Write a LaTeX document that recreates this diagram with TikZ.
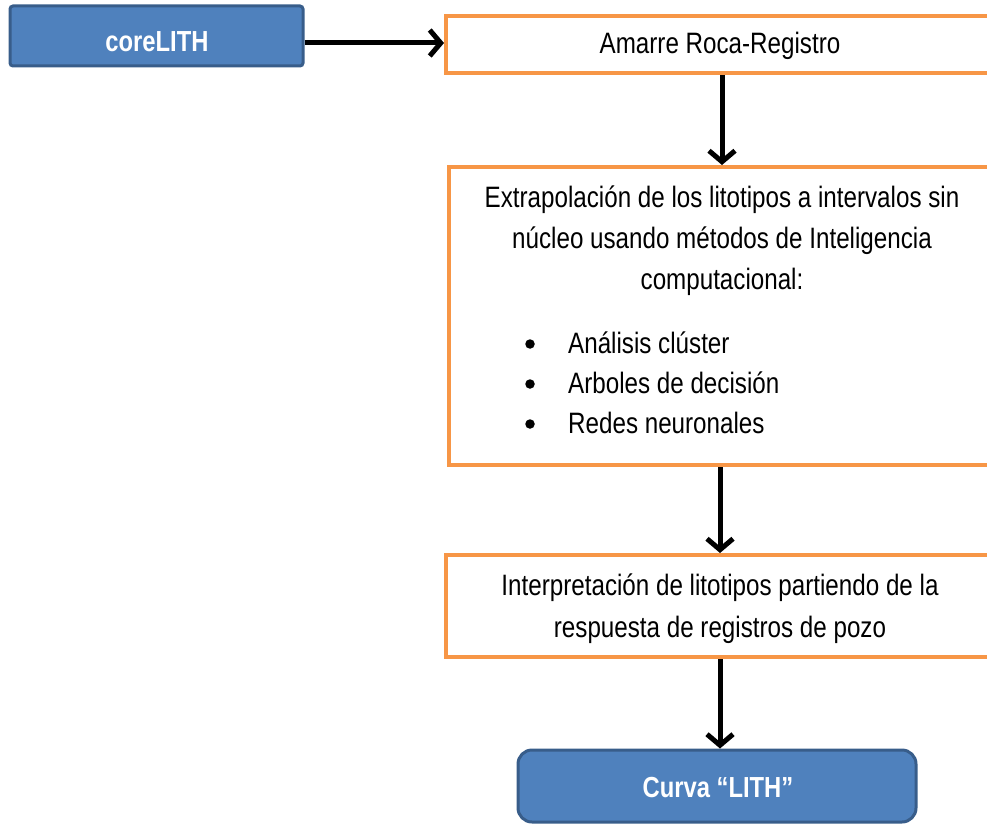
\documentclass[tikz,border=0pt]{standalone}
\usepackage{fontspec}
\setmainfont{Liberation Sans}[FakeStretch=0.82]
\usetikzlibrary{arrows.meta}
\definecolor{obord}{HTML}{F79646}
\definecolor{bfill}{HTML}{4F81BD}
\definecolor{bbord}{HTML}{385D8A}
\tikzset{
  obox/.style={draw=obord, line width=4pt, fill=white, rectangle, inner sep=0pt},
  bbox/.style={draw=bbord, line width=3pt, fill=bfill, rectangle, inner sep=0pt},
  txt/.style={font=\fontsize{29.5}{41}\selectfont, inner sep=0pt, anchor=base},
  btxt/.style={font=\fontsize{29}{34}\selectfont\bfseries, text=white, inner sep=0pt, anchor=base},
  bul/.style={circle, fill=black, inner sep=0pt, minimum size=9.5pt},
  arr/.style={line width=5pt, -{Straight Barb[length=11pt,width=26pt]}},
}
\begin{document}
\begin{tikzpicture}[x=1pt,y=-1pt]
\useasboundingbox (0,0) rectangle (987,824);
\clip (0,0) rectangle (987,824);
% boxes
\node[bbox, rounded corners=3pt, minimum width=293pt, minimum height=60pt] (core) at (156.5,36) {};
\node[btxt] (coret) at (157,52) {coreLITH};
\node[obox, minimum width=546pt, minimum height=57pt] (amarre) at (719,44.5) {};
\node[txt] (amarret) at (720,54) {Amarre Roca-Registro};
\node[obox, minimum width=546pt, minimum height=298pt] (ext) at (722,316) {};
\node[txt] (e1) at (722,207) {Extrapolación de los litotipos a intervalos sin};
\node[txt] (e2) at (722,248) {núcleo usando métodos de Inteligencia};
\node[txt] (e3) at (722,289) {computacional:};
\node[bul] (b1) at (530,344) {};
\node[bul] (b2) at (530,384) {};
\node[bul] (b3) at (530,424) {};
\node[txt, anchor=base west] (i1) at (568,353) {Análisis clúster};
\node[txt, anchor=base west] (i2) at (568,393) {Arboles de decisión};
\node[txt, anchor=base west] (i3) at (568,433) {Redes neuronales};
\node[obox, minimum width=546pt, minimum height=102pt] (interp) at (719,606) {};
\node[txt] (p1) at (720,595) {Interpretación de litotipos partiendo de la};
\node[txt] (p2) at (720,637) {respuesta de registros de pozo};
\node[bbox, rounded corners=14pt, minimum width=398pt, minimum height=72pt] (curva) at (717,786) {};
\node[btxt] (curvat) at (718,797) {Curva “LITH”};
% connectors
\draw[arr] ([yshift=-7pt]core.east) -- ([yshift=-7pt]core.east -| amarre.west);
\draw[arr] ([xshift=3pt]amarre.south) -- ([xshift=3pt]amarre.south |- ext.north);
\draw[arr] ([xshift=-2pt]ext.south) -- ([xshift=-2pt]ext.south |- interp.north);
\draw[arr] ([xshift=1pt]interp.south) -- ([xshift=1pt]interp.south |- curva.north);
\end{tikzpicture}
\end{document}
